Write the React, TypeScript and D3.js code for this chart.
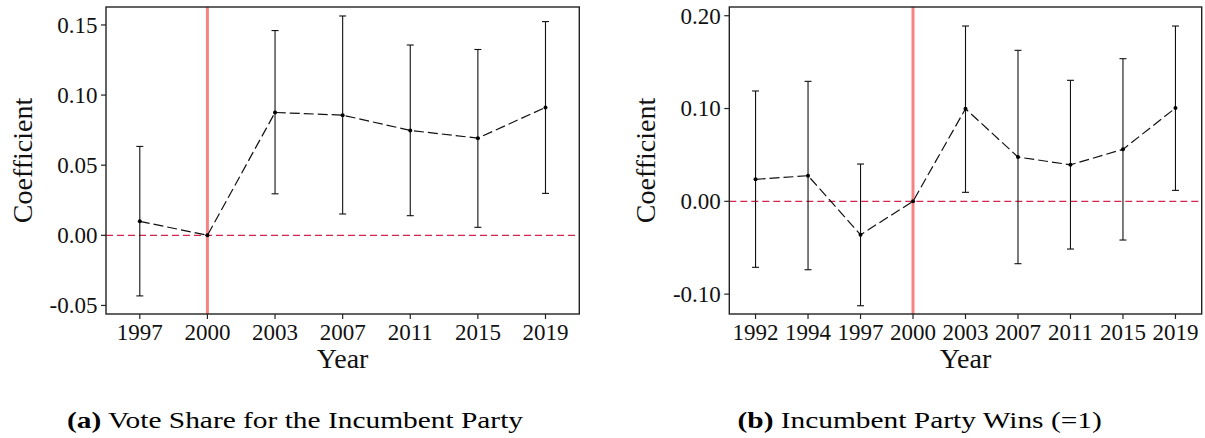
import React from "react";
import * as d3 from "d3";

const yearsA = ["1997", "2000", "2003", "2007", "2011", "2015", "2019"];
const coefA = [0.01, 0, 0.0876, 0.0857, 0.0748, 0.0693, 0.0912];
const lowA: (number | null)[] = [-0.0432, null, 0.0296, 0.0152, 0.014, 0.0057, 0.0299];
const highA: (number | null)[] = [0.0634, null, 0.146, 0.1564, 0.1357, 0.1325, 0.1524];
const ticksA = [-0.05, 0, 0.05, 0.1, 0.15];

const yearsB = ["1992", "1994", "1997", "2000", "2003", "2007", "2011", "2015", "2019"];
const coefB = [0.0237, 0.0276, -0.036, 0, 0.0998, 0.0477, 0.0394, 0.056, 0.1005];
const lowB: (number | null)[] = [-0.0711, -0.0737, -0.1125, null, 0.0097, -0.0672, -0.0514, -0.0417, 0.0118];
const highB: (number | null)[] = [0.1189, 0.1293, 0.0402, null, 0.1889, 0.1627, 0.1304, 0.1537, 0.1889];
const ticksB = [-0.1, 0, 0.1, 0.2];

const refYear = "2000";
const captionA = { label: "(a)", text: " Vote Share for the Incumbent Party" };
const captionB = { label: "(b)", text: " Incumbent Party Wins (=1)" };

const FONT = "'Liberation Serif', 'Times New Roman', Times, serif";

type PanelProps = {
  years: string[];
  coef: number[];
  low: (number | null)[];
  high: (number | null)[];
  ticks: number[];
  left: number;
  right: number;
  top: number;
  bottom: number;
  yDomain: [number, number];
  caption: { label: string; text: string };
  captionX: number;
};

function Panel(p: PanelProps) {
  const x = d3.scalePoint<string>().domain(p.years).range([p.left, p.right]).padding(0.5);
  const y = d3.scaleLinear().domain(p.yDomain).range([p.bottom, p.top]);
  const fmt = (v: number) => d3.format(".2f")(v).replace("\u2212", "-");
  const line = d3
    .line<number>()
    .x((_, i) => x(p.years[i]) as number)
    .y((d) => y(d));
  const midX = (p.left + p.right) / 2;
  const midY = (p.top + p.bottom) / 2;
  const capW = 3.5;
  return (
    <g>
      <line
        x1={x(refYear)}
        x2={x(refYear)}
        y1={p.top}
        y2={p.bottom}
        stroke="#F88282"
        strokeWidth={3}
      />
      <line
        x1={p.left}
        x2={p.right}
        y1={y(0)}
        y2={y(0)}
        stroke="#D2264F"
        strokeWidth={1.2}
        strokeDasharray="7,4"
      />
      {p.years.map((yr, i) => {
        const lo = p.low[i];
        const hi = p.high[i];
        if (lo === null || hi === null) return null;
        const cx = x(yr) as number;
        return (
          <g key={"eb" + yr} stroke="#111" strokeWidth={1.1}>
            <line x1={cx} x2={cx} y1={y(lo)} y2={y(hi)} />
            <line x1={cx - capW} x2={cx + capW} y1={y(lo)} y2={y(lo)} />
            <line x1={cx - capW} x2={cx + capW} y1={y(hi)} y2={y(hi)} />
          </g>
        );
      })}
      <path d={line(p.coef) || ""} fill="none" stroke="#111" strokeWidth={1.2} strokeDasharray="10,4" />
      {p.coef.map((v, i) => (
        <circle key={"pt" + i} cx={x(p.years[i])} cy={y(v)} r={2} fill="#000" />
      ))}
      <rect
        x={p.left}
        y={p.top}
        width={p.right - p.left}
        height={p.bottom - p.top}
        fill="none"
        stroke="#222"
        strokeWidth={1.4}
      />
      {p.ticks.map((t) => (
        <g key={"yt" + t}>
          <line x1={p.left - 5} x2={p.left} y1={y(t)} y2={y(t)} stroke="#222" strokeWidth={1.2} />
          <text
            x={p.left - 8.5}
            y={y(t)}
            dy="0.34em"
            textAnchor="end"
            fontFamily={FONT}
            fontSize={23}
            fill="#111"
          >
            {fmt(t)}
          </text>
        </g>
      ))}
      {p.years.map((yr) => (
        <g key={"xt" + yr}>
          <line
            x1={x(yr)}
            x2={x(yr)}
            y1={p.bottom}
            y2={p.bottom + 5}
            stroke="#222"
            strokeWidth={1.2}
          />
          <text x={x(yr)} y={340} textAnchor="middle" fontFamily={FONT} fontSize={23} fill="#111">
            {yr}
          </text>
        </g>
      ))}
      <text x={midX} y={368} textAnchor="middle" fontFamily={FONT} fontSize={28} fill="#111">
        Year
      </text>
      <text
        transform={`translate(${p.left - 74.5},${midY}) rotate(-90)`}
        textAnchor="middle"
        fontFamily={FONT}
        fontSize={28}
        fill="#111"
      >
        Coefficient
      </text>
      <text
        transform={`translate(${p.captionX},428) scale(1.225,1)`}
        fontFamily={FONT}
        fontSize={24}
        fill="#000"
      >
        <tspan fontWeight="bold">{p.caption.label}</tspan>
        <tspan>{p.caption.text}</tspan>
      </text>
    </g>
  );
}

export default function App() {
  return (
    <svg
      width={1205}
      height={438}
      style={{ position: "absolute", left: 0, top: 0, background: "#fff" }}
    >
      <rect width={1205} height={438} fill="#fff" />
      <Panel
        years={yearsA}
        coef={coefA}
        low={lowA}
        high={highA}
        ticks={ticksA}
        left={106}
        right={579.3}
        top={7}
        bottom={314}
        yDomain={[-0.0561, 0.1628]}
        caption={captionA}
        captionX={67}
      />
      <Panel
        years={yearsB}
        coef={coefB}
        low={lowB}
        high={highB}
        ticks={ticksB}
        left={729.3}
        right={1201.7}
        top={7}
        bottom={314}
        yDomain={[-0.1214, 0.2094]}
        caption={captionB}
        captionX={737.5}
      />
    </svg>
  );
}
